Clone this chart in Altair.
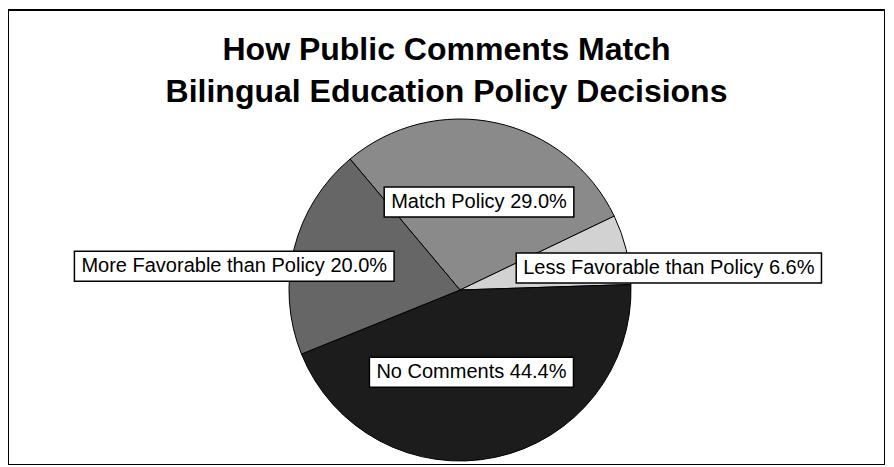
import math
import altair as alt
import pandas as pd

# ---- data ----
categories = ["Match Policy", "Less Favorable than Policy", "No Comments", "More Favorable than Policy"]
values = [29.0, 6.6, 44.4, 20.0]
slice_order = [1, 2, 3, 4]
colors = ["#8a8a8a", "#d2d2d2", "#1c1c1c", "#666666"]
title_lines = ["How Public Comments Match", "Bilingual Education Policy Decisions"]

# ---- label placement (style, not data) ----
label_radius = {"Match Policy": 90, "Less Favorable than Policy": 210,
                "No Comments": 83, "More Favorable than Policy": 227}
label_nudge = {"Match Policy": 0, "Less Favorable than Policy": -7.7,
               "No Comments": -4, "More Favorable than Policy": 8}
START_DEG = -40  # vega angle (clockwise from 12 o'clock) where the first slice starts
FONT_SIZE = 20

ARIAL = {"M": 833, "a": 556, "t": 278, "c": 500, "h": 556, " ": 278, "P": 667, "o": 556,
         "l": 222, "i": 222, "y": 500, ".": 278, "%": 889, "L": 556, "e": 556, "s": 500,
         "F": 611, "v": 500, "r": 333, "b": 556, "n": 556, "N": 722, "C": 722, "m": 833}
for d in "0123456789":
    ARIAL[d] = 556


def text_w(s):
    return sum(ARIAL.get(ch, 556) for ch in s) / 1000 * FONT_SIZE


df = pd.DataFrame({"category": categories, "value": values, "order": slice_order})
df["label"] = [f"{c} {v:.1f}%" for c, v in zip(categories, values)]
df["box_w"] = [text_w(s) + 14 for s in df["label"]]
df["lab_r"] = [label_radius[c] for c in categories]
df["nudge"] = [label_nudge[c] for c in categories]

W, H = 877, 455
CX, CY = 452, 280  # pie centre inside the view
xs = alt.Scale(domain=[-CX, W - CX], nice=False, zero=False)
ys = alt.Scale(domain=[-(H - CY), CY], nice=False, zero=False)

base = alt.Chart(df)

pie = base.mark_arc(outerRadius=171, stroke="black", strokeWidth=1).encode(
    theta=alt.Theta("value:Q", stack=True,
                    scale=alt.Scale(range=[math.radians(START_DEG), math.radians(START_DEG + 360)])),
    order=alt.Order("order:Q"),
    color=alt.Color("category:N", scale=alt.Scale(domain=categories, range=colors), legend=None),
    x=alt.XDatum(0, type="quantitative", scale=xs, axis=None),
    y=alt.YDatum(0, type="quantitative", scale=ys, axis=None),
)

lab = (
    base.transform_joinaggregate(total="sum(value)")
    .transform_window(cum="sum(value)", sort=[alt.SortField("order", order="ascending")], frame=[None, 0])
    .transform_calculate(
        mid=f"({90 - START_DEG} - (datum.cum - datum.value/2)/datum.total*360 + datum.nudge)*PI/180"
    )
    .transform_calculate(lx="datum.lab_r*cos(datum.mid)", ly="datum.lab_r*sin(datum.mid)")
    .transform_calculate(
        bx1="datum.lx - datum.box_w/2", bx2="datum.lx + datum.box_w/2",
        by1="datum.ly - 15", by2="datum.ly + 15",
    )
)

boxes = lab.mark_rect(fill="white", stroke="black", strokeWidth=1.5).encode(
    x=alt.X("bx1:Q", scale=xs, axis=None), x2="bx2:Q",
    y=alt.Y("by1:Q", scale=ys, axis=None), y2="by2:Q",
)

texts = lab.mark_text(fontSize=FONT_SIZE, font="Liberation Sans", color="black",
                      baseline="middle", align="center").encode(
    x=alt.X("lx:Q", scale=xs, axis=None),
    y=alt.Y("ly:Q", scale=ys, axis=None),
    text="label:N",
)

chart = (
    alt.layer(pie, boxes, texts)
    .properties(
        width=W, height=H,
        title=alt.Title(title_lines, fontSize=32, font="Liberation Sans", fontWeight="bold",
                        anchor="middle", baseline="top", offset=-24, dy=75, lineHeight=42,
                        frame="group", color="black"),
        autosize=alt.AutoSizeParams(type="none"),
        padding={"left": 0, "top": 2, "right": 0, "bottom": 0},
    )
    .configure_view(stroke="black", strokeWidth=2)
)

chart.save("out.html", embed_options={"renderer": "svg", "actions": False})
